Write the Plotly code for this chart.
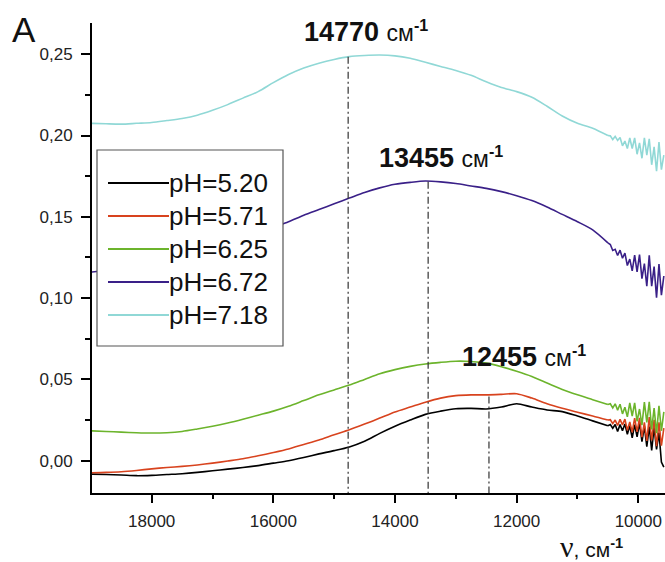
import plotly.graph_objects as go

# ---------------- data ----------------
X_MAIN = [19000, 18750, 18500, 18250, 18000, 17750, 17500, 17250, 17000, 16750,
          16500, 16250, 16000, 15750, 15500, 15250, 15000, 14750, 14500, 14250,
          14000, 13750, 13500, 13250, 13000, 12750, 12500, 12250, 12000, 11750,
          11500, 11250, 11000, 10750, 10500]
X_TAIL = [10460, 10420, 10380, 10340, 10300, 10260, 10220, 10180, 10140, 10100,
          10060, 10020, 9980, 9940, 9900, 9860, 9820, 9780, 9740, 9700,
          9660, 9620, 9580]

PH_LABELS = ["pH=5.20", "pH=5.71", "pH=6.25", "pH=6.72", "pH=7.18"]

Y_520_MAIN = [-0.0082, -0.0085, -0.0088, -0.0092, -0.0090, -0.0085, -0.0080, -0.0072, -0.0062, -0.0052,
              -0.0042, -0.0030, -0.0015, 0.0000, 0.0020, 0.0042, 0.0062, 0.0085, 0.0120, 0.0168,
              0.0212, 0.0250, 0.0285, 0.0305, 0.0320, 0.0322, 0.0318, 0.0330, 0.0350, 0.0330,
              0.0312, 0.0302, 0.0275, 0.0245, 0.0215]
Y_520_TAIL = [0.0222, 0.0200, 0.0223, 0.0180, 0.0222, 0.0184, 0.0226, 0.0163, 0.0215, 0.0141,
              0.0222, 0.0147, 0.0232, 0.0117, 0.0212, 0.0086, 0.0210, 0.0063, 0.0206, 0.0069,
              0.0172, -0.0008, -0.0040]

Y_571_MAIN = [-0.0074, -0.0072, -0.0068, -0.0060, -0.0050, -0.0042, -0.0035, -0.0026, -0.0015, -0.0002,
              0.0012, 0.0030, 0.0050, 0.0072, 0.0100, 0.0128, 0.0160, 0.0190, 0.0225, 0.0262,
              0.0300, 0.0330, 0.0360, 0.0385, 0.0400, 0.0405, 0.0405, 0.0408, 0.0412, 0.0385,
              0.0350, 0.0322, 0.0298, 0.0275, 0.0250]
Y_571_TAIL = [0.0252, 0.0228, 0.0250, 0.0217, 0.0254, 0.0220, 0.0256, 0.0187, 0.0238, 0.0175,
              0.0262, 0.0178, 0.0264, 0.0145, 0.0236, 0.0122, 0.0268, 0.0125, 0.0252, 0.0089,
              0.0236, 0.0093, 0.0200]

Y_625_MAIN = [0.0184, 0.0180, 0.0176, 0.0172, 0.0170, 0.0172, 0.0180, 0.0195, 0.0212, 0.0232,
              0.0255, 0.0280, 0.0305, 0.0335, 0.0370, 0.0405, 0.0435, 0.0465, 0.0500, 0.0535,
              0.0560, 0.0580, 0.0595, 0.0605, 0.0612, 0.0610, 0.0600, 0.0578, 0.0550, 0.0518,
              0.0478, 0.0438, 0.0405, 0.0375, 0.0345]
Y_625_TAIL = [0.0350, 0.0325, 0.0350, 0.0311, 0.0347, 0.0288, 0.0329, 0.0270, 0.0355, 0.0275,
              0.0356, 0.0242, 0.0318, 0.0219, 0.0360, 0.0236, 0.0362, 0.0193, 0.0324, 0.0170,
              0.0337, 0.0184, 0.0300]

Y_672_MAIN = [0.1160, 0.1170, 0.1180, 0.1195, 0.1210, 0.1230, 0.1250, 0.1275, 0.1300, 0.1330,
              0.1365, 0.1400, 0.1435, 0.1470, 0.1510, 0.1545, 0.1580, 0.1615, 0.1650, 0.1678,
              0.1700, 0.1712, 0.1720, 0.1715, 0.1705, 0.1690, 0.1675, 0.1655, 0.1630, 0.1600,
              0.1560, 0.1515, 0.1470, 0.1420, 0.1340]
Y_672_TAIL = [0.1330, 0.1293, 0.1300, 0.1262, 0.1295, 0.1245, 0.1277, 0.1200, 0.1240, 0.1167,
              0.1264, 0.1161, 0.1268, 0.1120, 0.1212, 0.1073, 0.1264, 0.1074, 0.1194, 0.1002,
              0.1210, 0.1018, 0.1136]

Y_718_MAIN = [0.2075, 0.2072, 0.2070, 0.2075, 0.2080, 0.2092, 0.2105, 0.2125, 0.2155, 0.2190,
              0.2230, 0.2270, 0.2325, 0.2375, 0.2415, 0.2445, 0.2468, 0.2485, 0.2492, 0.2495,
              0.2490, 0.2475, 0.2450, 0.2425, 0.2400, 0.2370, 0.2330, 0.2295, 0.2270, 0.2235,
              0.2180, 0.2120, 0.2075, 0.2045, 0.2000]
Y_718_TAIL = [0.1998, 0.1975, 0.1995, 0.1970, 0.1988, 0.1937, 0.1966, 0.1920, 0.1985, 0.1920,
              0.1985, 0.1885, 0.1955, 0.1860, 0.1985, 0.1880, 0.1980, 0.1820, 0.1930, 0.1780,
              0.1960, 0.1790, 0.1880]

PEAK_X = [14770, 13455, 12455]
PEAK_TOP = [0.2485, 0.1715, 0.0395]

X_TICKS = [18000, 16000, 14000, 12000, 10000]
Y_TICKS = [0.00, 0.05, 0.10, 0.15, 0.20, 0.25]

SERIES = [
    (PH_LABELS[0], Y_520_MAIN, Y_520_TAIL, "#000000"),
    (PH_LABELS[1], Y_571_MAIN, Y_571_TAIL, "#d8431e"),
    (PH_LABELS[2], Y_625_MAIN, Y_625_TAIL, "#6cb42c"),
    (PH_LABELS[3], Y_672_MAIN, Y_672_TAIL, "#3a2088"),
    (PH_LABELS[4], Y_718_MAIN, Y_718_TAIL, "#90d8d6"),
]

# ---------------- geometry helpers (pixels -> paper) ----------------
W, H = 665, 562
L, R, T, B = 92, 665, 23, 493
X_RANGE = [18981, 9561]
Y_RANGE = [-0.01986, 0.2692]


def px(xp):
    return (xp - L) / (R - L)


def py(yp):
    return (B - yp) / (B - T)


FONT = "Liberation Sans, Arial, sans-serif"

fig = go.Figure()

for name, ym, yt, col in SERIES:
    # smooth body of the spectrum
    fig.add_trace(go.Scatter(
        x=X_MAIN, y=ym, mode="lines", name=name,
        line=dict(color=col, width=1.6, shape="spline", smoothing=0.8),
        showlegend=False, hoverinfo="skip"))
    # noisy low-frequency end of the same spectrum
    fig.add_trace(go.Scatter(
        x=X_MAIN[-1:] + X_TAIL, y=ym[-1:] + yt, mode="lines", name=name,
        line=dict(color=col, width=1.6), showlegend=False, hoverinfo="skip"))

for xv, yv in zip(PEAK_X, PEAK_TOP):
    fig.add_trace(go.Scatter(
        x=[xv, xv], y=[yv, Y_RANGE[0]], mode="lines", showlegend=False,
        line=dict(color="#333333", width=1.2, dash="7px,3px,2px,3px"),
        hoverinfo="skip"))

annotations = []
shapes = []

# peak labels
PEAK_LABEL_POS = [(302, 31), (377, 157.5), (460, 356)]
for xv, (lx, ly) in zip(PEAK_X, PEAK_LABEL_POS):
    annotations.append(dict(
        xref="paper", yref="paper", x=px(lx), y=py(ly), xanchor="left", yanchor="middle",
        showarrow=False,
        text=f"<b>{xv}</b> <span style='font-size:23px'>см<sup><b>-1</b></sup></span>",
        font=dict(family=FONT, size=27, color="#111111")))

# custom legend
shapes.append(dict(type="rect", xref="paper", yref="paper",
                   x0=px(97), x1=px(283), y0=py(346), y1=py(150),
                   line=dict(color="#555555", width=1.2), fillcolor="white", layer="above"))
ROWS = [183, 216, 249, 282, 315]
for (name, _, _, col), ry in zip(SERIES, ROWS):
    shapes.append(dict(type="line", xref="paper", yref="paper",
                       x0=px(108), x1=px(169), y0=py(ry), y1=py(ry),
                       line=dict(color=col, width=2), layer="above"))
    annotations.append(dict(xref="paper", yref="paper", x=px(167), y=py(ry),
                            xanchor="left", yanchor="middle", showarrow=False,
                            text=name, font=dict(family=FONT, size=26, color="#111111")))

# panel letter
annotations.append(dict(xref="paper", yref="paper", x=px(24), y=py(30),
                        xanchor="center", yanchor="middle", showarrow=False,
                        text="A", font=dict(family=FONT, size=35, color="#111111")))

# x-axis title
annotations.append(dict(
    xref="paper", yref="paper", x=px(558), y=py(546), xanchor="left", yanchor="middle",
    showarrow=False,
    text="<span style='font-family:Liberation Serif;font-size:30px'>ν</span>, см<sup><b>-1</b></sup>",
    font=dict(family=FONT, size=21, color="#111111")))

fig.update_layout(
    width=W, height=H,
    margin=dict(l=L, r=W - R, t=T, b=H - B, pad=0),
    paper_bgcolor="white", plot_bgcolor="white",
    separators=",.",
    font=dict(family=FONT, color="#222222"),
    annotations=annotations, shapes=shapes, showlegend=False,
)

fig.update_xaxes(
    range=X_RANGE, showgrid=False, zeroline=False,
    showline=True, linecolor="black", linewidth=2,
    ticks="outside", ticklen=8, tickwidth=2, tickcolor="black",
    tickvals=X_TICKS, tickformat="d", tickfont=dict(size=17, color="#222222"),
    ticklabelstandoff=4,
    minor=dict(dtick=1000, tick0=0, ticks="outside", ticklen=4, tickwidth=2, tickcolor="black"),
)
fig.update_yaxes(
    range=Y_RANGE, showgrid=False, zeroline=False,
    showline=True, linecolor="black", linewidth=2,
    ticks="outside", ticklen=9, tickwidth=2, tickcolor="black",
    tickvals=Y_TICKS, tickformat=".2f", tickfont=dict(size=17, color="#222222"),
    ticklabelstandoff=5,
    minor=dict(dtick=0.025, tick0=0, ticks="outside", ticklen=5, tickwidth=2, tickcolor="black"),
)

fig.write_html(
    "out.html",
    config={"displayModeBar": False, "staticPlot": True},
    post_script="document.body.style.margin='0';document.body.style.overflow='hidden';"
                "document.documentElement.style.overflow='hidden';",
)
